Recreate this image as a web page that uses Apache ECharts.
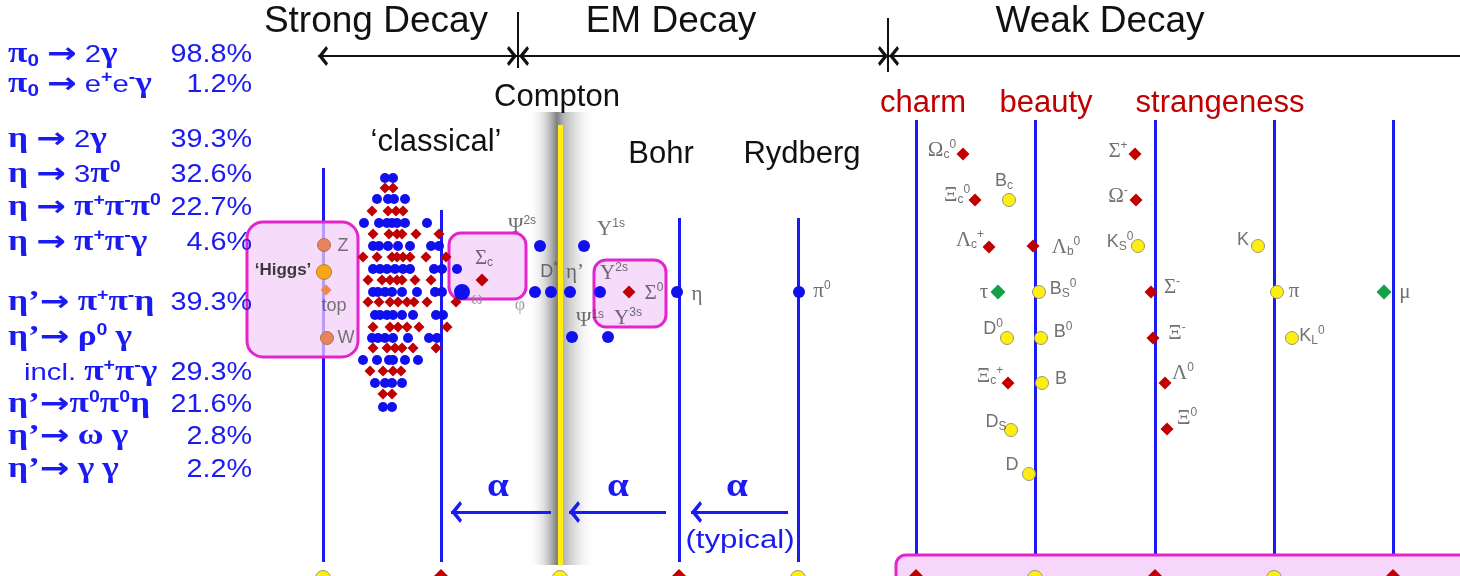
<!DOCTYPE html>
<html><head><meta charset="utf-8">
<script src="https://cdn.jsdelivr.net/npm/echarts@6/dist/echarts.min.js"></script>
<style>html,body{margin:0;padding:0;background:#fff}#c{width:1460px;height:576px}</style>
</head><body><div id="c"></div>
<script>
// ---------------- DATA ----------------
const decayLeft = ['π_{0} → 2γ','π_{0} → e^{+}e^{-}γ','η → 2γ','η → 3π^{0}','η → π^{+}π^{-}π^{0}','η → π^{+}π^{-}γ',
  'η’→ π^{+}π^{-}η','η’→ ρ^{0} γ','incl. π^{+}π^{-}γ','η’→π^{0}π^{0}η','η’→ ω γ','η’→ γ γ'];
const decayPct = ['98.8%','1.2%','39.3%','32.6%','22.7%','4.6%','39.3%','','29.3%','21.6%','2.8%','2.2%'];
const decayRowY = [55,85,140,175,208,243,303,338,373,405,437,470];

const sectionTitles = [['Strong Decay',376],['EM Decay',671],['Weak Decay',1100]];
const scaleNames = [['Compton',557,97],['‘classical’',436,142],['Bohr',661,154],['Rydberg',802,154]];
const flavourNames = [['charm',923],['beauty',1046],['strangeness',1220]];

// vertical scale lines [x, yTop, yBottom]
const blueLines = [[323,168,562],[441,210,562],[679,218,562],[798,218,562],
  [916,120,562],[1035,120,562],[1155,120,562],[1274,120,562],[1393,120,562]];
const comptonLine = [[560,125,565]];
const topArrowsBoth = [[318,56,517,56],[519,56,888,56]];
const topArrowsLeft = [[1460,56,889,56]];
const topTicks = [[518,12,68],[888,18,72]];
const alphaArrows = [[551,512,451,512],[666,512,569,512],[788,512,691,512]];
const alphaX = [498,618,737];

// strong-decay cluster rows: [y, [x...]]
const clusterBlueRows = [[178,[385,393]],[199,[377,388,394,405]],[223,[364,379,387,392,397,405,427]],
  [246,[373,379,388,398,410,431,439]],[269,[373,380,387,395,403,410,434,442,457]],
  [292,[373,378,385,392,402,417,435,442]],[315,[375,380,387,393,402,413,436,443]],
  [338,[372,378,385,393,408,429,437]],[360,[363,377,389,393,405,418]],[383,[375,385,392,402]],[407,[383,392]]];
const clusterRedRows = [[188,[385,393]],[211,[372,388,396,403]],[234,[373,389,397,402,416,439]],
  [257,[363,377,392,397,403,410,426,446]],[280,[368,382,390,397,402,415,431]],
  [302,[368,379,390,398,407,414,427,456]],[327,[373,390,398,407,419,447]],
  [348,[373,387,395,402,413,436]],[371,[370,383,393,401]],[394,[383,392]]];

const higgsZW = [[324,245],[327,338]];
const higgsH = [[324,272]];
const topQuark = [[326,290]];
const emBlueBig = [[462,292]];
const emBlue = [[535,292],[551,292],[570,292],[600,292],[677,292],[799,292],[540,246],[584,246],[572,337],[608,337]];
const emRed = [[482,280],[629,292]];

const weakYellow = [[1009,200],[1138,246],[1039,292],[1007,338],[1041,338],[1042,383],[1011,430],[1029,474],[1258,246],[1277,292],[1292,338]];
const weakRed = [[963,154],[975,200],[989,247],[1033,246],[1135,154],[1136,200],[1151,292],[1153,338],[1008,383],[1165,383],[1167,429]];
const weakGreen = [[998,292],[1384,292]];
const bottomYellow = [[323,578],[560,578],[798,578],[1035,578],[1274,578]];
const bottomRed = [[441,578],[679,578],[916,578],[1155,578],[1393,578]];

const higgsLabels = [[343,246,'Z'],[334,306,'top'],[346,338,'W']];
const emLabels = [[522,226,'Ψ^{2s}'],[611,229,'Υ^{1s}'],[549,272,'D^{*}'],[575,272,'η’'],[614,273,'Υ^{2s}'],
  [654,293,'Σ^{0}'],[697,294,'η'],[590,320,'Ψ^{1s}'],[628,318,'Υ^{3s}'],[822,291,'π^{0}'],[484,258,'Σ_{c}']];
const faintLabels = [[477,299,'ω'],[520,305,'φ']];
const weakLabels = [[942,150,'Ω_{c}^{0}'],[957,195,'Ξ_{c}^{0}'],[1004,181,'B_{c}'],[970,240,'Λ_{c}^{+}'],[1066,247,'Λ_{b}^{0}'],
  [1118,151,'Σ^{+}'],[1118,196,'Ω^{-}'],[1120,242,'K_{S}^{0}'],[984,292,'τ'],[1063,289,'B_{S}^{0}'],[1172,287,'Σ^{-}'],
  [993,329,'D^{0}'],[1063,332,'B^{0}'],[1177,333,'Ξ^{-}'],[990,376,'Ξ_{c}^{+}'],[1061,379,'B'],[1183,373,'Λ^{0}'],
  [996,422,'D_{S}'],[1187,418,'Ξ^{0}'],[1012,465,'D'],[1243,240,'K'],[1294,291,'π'],[1312,336,'K_{L}^{0}'],[1405,292,'μ']];

// ---------------- HELPERS ----------------
const BLUE = '#1a1af2', RED = '#c00000', YEL = '#ffee10', GRAY = '#4d4d4d';
const GREEK = 'αβγδεηθλμνξπρστυφχψωΓΔΘΛΞΠΣΥΦΨΩ’';
function cls(c){ return GREEK.includes(c) ? 'g' : (c === '→' ? 'a' : 'm'); }
function rich(str){
  let out = '', i = 0;
  while (i < str.length) {
    const c = str[i];
    if ((c === '_' || c === '^') && str[i+1] === '{') {
      const j = str.indexOf('}', i);
      out += '{' + (c === '_' ? 'b' : 'p') + '|' + str.slice(i+2, j) + '}';
      i = j + 1;
    } else {
      const k = cls(c); let j = i;
      while (j < str.length && !((str[j]==='_'||str[j]==='^') && str[j+1]==='{') && cls(str[j]) === k) j++;
      out += '{' + k + '|' + str.slice(i, j) + '}';
      i = j;
    }
  }
  return out;
}
function mkRich(spec, colorKey){
  const r = {};
  for (const k in spec) { const s = Object.assign({}, spec[k]); s[colorKey] = s.c; delete s.c; r[k] = s; }
  return r;
}
const panelSpec = {
  m: {c: BLUE, fontFamily: 'Liberation Sans', fontSize: 24, lineHeight: 30},
  g: {c: BLUE, fontFamily: 'Liberation Serif', fontWeight: 'bold', fontSize: 29, lineHeight: 30},
  a: {c: BLUE, fontFamily: 'DejaVu Sans', fontWeight: 'bold', fontSize: 29, lineHeight: 30},
  p: {c: BLUE, fontFamily: 'Liberation Sans', fontWeight: 'bold', fontSize: 16, lineHeight: 14, verticalAlign: 'top'},
  b: {c: BLUE, fontFamily: 'Liberation Sans', fontWeight: 'bold', fontSize: 17, lineHeight: 14, verticalAlign: 'bottom'}
};
function partSpec(col, sz){
  return {
    m: {c: col, fontFamily: 'Liberation Sans', fontSize: sz, lineHeight: sz + 4},
    g: {c: col, fontFamily: 'Liberation Serif', fontSize: sz + 3, lineHeight: sz + 4},
    a: {c: col, fontFamily: 'DejaVu Sans', fontSize: sz, lineHeight: sz + 4},
    p: {c: col, fontFamily: 'Liberation Sans', fontSize: Math.round(sz * 0.66), lineHeight: 11, verticalAlign: 'top'},
    b: {c: col, fontFamily: 'Liberation Sans', fontSize: Math.round(sz * 0.66), lineHeight: 11, verticalAlign: 'bottom'}
  };
}
function txt(x, y, text, o){
  o = o || {};
  return {type: 'text', x, y, z: o.z || 20, scaleX: o.sx || 1, silent: true,
    style: {text, fill: o.fill || '#111', fontFamily: o.ff || 'Liberation Sans', fontSize: o.fs || 20,
      fontWeight: o.fw || 'normal', align: o.align || 'center', verticalAlign: 'middle', rich: o.rich}};
}
const CHEV = 'path://M0,-11L0.01,-11ZM0,0L10,9L7.2,11L0,4.8L-7.2,11L-10,9Z';
function linesSeries(segs, color, width, symbol, size){
  return {type: 'lines', coordinateSystem: 'cartesian2d', z: 2, silent: true, animation: false,
    symbol: symbol || ['none','none'], symbolSize: size || 16,
    lineStyle: {color, width, opacity: 1},
    data: segs.map(s => ({coords: [[s[0], s[1]], [s[2], s[3]]]}))};
}
function vlines(arr){ return arr.map(v => [v[0], v[1], v[0], v[2]]); }
function scat(data, symbol, size, color, border){
  return {type: 'scatter', data, symbol, symbolSize: size, z: 5, silent: true, clip: false, animation: false,
    itemStyle: {color, borderColor: border || color, borderWidth: border ? 1 : 0, opacity: 1}};
}
function lblSeries(data, spec){
  return {type: 'scatter', data, symbolSize: 1, z: 6, silent: true, clip: false, animation: false,
    itemStyle: {color: 'rgba(0,0,0,0)'},
    label: {show: true, position: 'inside', textBorderWidth: 0, formatter: p => rich(p.data[2]), rich: mkRich(spec, 'color')}};
}
function rows(rs){ const out = []; rs.forEach(r => r[1].forEach(x => out.push([x, r[0]]))); return out; }

// ---------------- GRAPHICS (text & boxes) ----------------
const g = [];
g.push({type: 'rect', z: 0, silent: true, shape: {x: 527, y: 112, width: 68, height: 453},
  style: {fill: new echarts.graphic.LinearGradient(0, 0, 1, 0, [
    {offset: 0, color: 'rgba(255,255,255,0)'}, {offset: 0.25, color: 'rgba(190,190,190,0.5)'},
    {offset: 0.44, color: 'rgba(120,120,120,0.95)'}, {offset: 0.53, color: 'rgba(170,170,170,0.9)'},
    {offset: 0.75, color: 'rgba(215,215,215,0.6)'}, {offset: 1, color: 'rgba(255,255,255,0)'}])}});
const boxStyle = {fill: 'rgba(242,205,250,0.72)', stroke: '#e424cc', lineWidth: 3};
g.push({type: 'rect', z: 3, silent: true, shape: {x: 247, y: 222, width: 111, height: 135, r: 16}, style: boxStyle});
g.push({type: 'rect', z: 3, silent: true, shape: {x: 449, y: 233, width: 77, height: 66, r: 12}, style: boxStyle});
g.push({type: 'rect', z: 3, silent: true, shape: {x: 594, y: 260, width: 72, height: 67, r: 12}, style: boxStyle});
g.push({type: 'rect', z: 3, silent: true, shape: {x: 896, y: 555, width: 580, height: 60, r: 10},
  style: {fill: '#f6d6fb', stroke: '#e424cc', lineWidth: 3}});

decayLeft.forEach((s, i) => g.push(txt(i === 8 ? 24 : 8, decayRowY[i], rich(s), {align: 'left', sx: 1.22, rich: mkRich(panelSpec, 'fill')})));
decayPct.forEach((s, i) => { if (s) g.push(txt(252, decayRowY[i], s, {align: 'right', sx: 1.15, fs: 25, fill: BLUE})); });
sectionTitles.forEach(t => g.push(txt(t[1], 22, t[0], {fs: 37})));
scaleNames.forEach(t => g.push(txt(t[1], t[2], t[0], {fs: 31})));
flavourNames.forEach(t => g.push(txt(t[1], 103, t[0], {fs: 31, fill: RED})));
alphaX.forEach(x => g.push(txt(x, 487, 'α', {fs: 34, ff: 'Liberation Serif', fw: 'bold', fill: BLUE, sx: 1.15})));
g.push(txt(740, 541, '(typical)', {fs: 26, fill: BLUE, sx: 1.2}));
g.push(txt(283, 270, '‘Higgs’', {fs: 17, fw: 'bold', fill: '#3a3a3a'}));

// ---------------- CHART ----------------
const chart = echarts.init(document.getElementById('c'), null, {renderer: 'canvas'});
chart.setOption({
  animation: false,
  backgroundColor: '#ffffff',
  grid: {left: 0, top: 0, right: 0, bottom: 0},
  xAxis: {type: 'value', min: 0, max: 1460, show: false},
  yAxis: {type: 'value', min: 0, max: 576, inverse: true, show: false},
  graphic: g,
  series: [
    linesSeries(vlines(blueLines), BLUE, 3),
    linesSeries(vlines(comptonLine), YEL, 5),
    linesSeries(topArrowsBoth, '#111', 2, [CHEV, CHEV], 20),
    linesSeries(topArrowsLeft, '#111', 2, ['none', CHEV], 20),
    linesSeries(vlines(topTicks), '#111', 2),
    linesSeries(alphaArrows, BLUE, 3, ['none', CHEV], 22),
    scat(rows(clusterBlueRows), 'circle', 10, '#1010ee'),
    scat(rows(clusterRedRows), 'diamond', 11, RED),
    scat(higgsZW, 'circle', 13, '#e8845c', '#b07050'),
    scat(higgsH, 'circle', 15, '#f5a51a', '#c08020'),
    scat(topQuark, 'diamond', 11, '#f08848'),
    scat(emBlueBig, 'circle', 16, '#1010ee'),
    scat(emBlue, 'circle', 12, '#1010ee'),
    scat(emRed, 'diamond', 13, RED),
    scat(weakYellow, 'circle', 13, YEL, '#9a9a70'),
    scat(weakRed, 'diamond', 13, RED),
    scat(weakGreen, 'diamond', 15, '#12a048'),
    scat(bottomYellow, 'circle', 15, YEL, '#9a9a70'),
    scat(bottomRed, 'diamond', 18, RED),
    lblSeries(higgsLabels, partSpec('#555555', 18)),
    lblSeries(emLabels, partSpec('#4a4a4a', 18)),
    lblSeries(faintLabels, partSpec('#8a8a8a', 15)),
    lblSeries(weakLabels, partSpec(GRAY, 18))
  ]
});
</script></body></html>
